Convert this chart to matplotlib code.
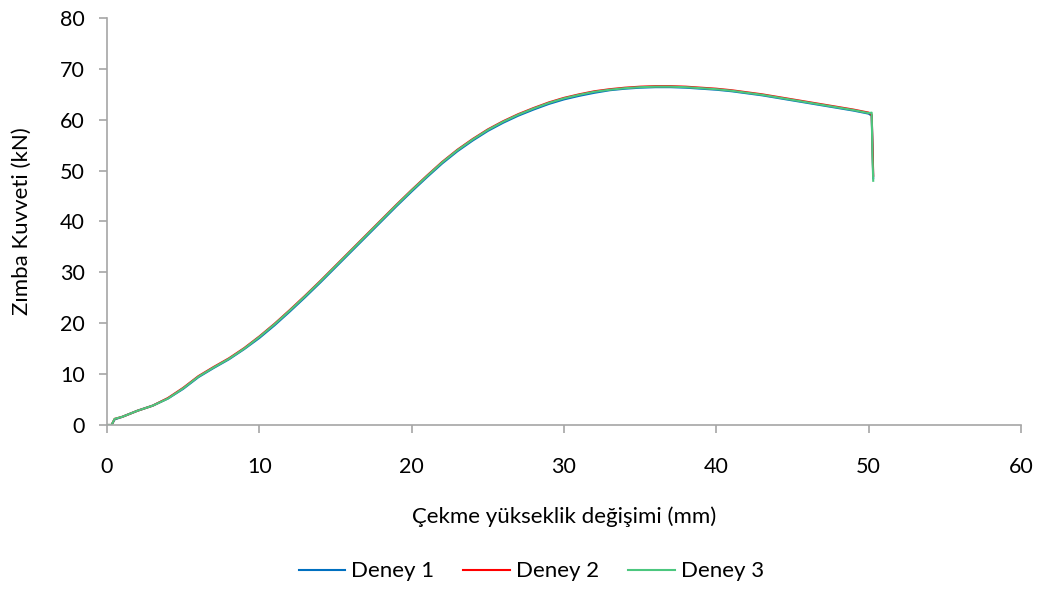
import matplotlib
matplotlib.use("Agg")
import matplotlib.pyplot as plt

plt.rcParams['font.family'] = ['Lato', 'DejaVu Sans']

# Punch displacement (mm)
disp = [0, 0.3, 0.5, 1, 2, 3, 4, 5, 6, 7, 8, 9, 10, 11, 12, 13, 14, 15, 16,
        17, 18, 19, 20, 21, 22, 23, 24, 25, 26, 27, 28, 29, 30, 31, 32, 33,
        34, 35, 36, 37, 38, 39, 40, 41, 42, 43, 44, 45, 46, 47, 48, 49, 50,
        50.2, 50.25, 50.3]

# Punch force (kN)
deney1 = [0, 0, 1.1, 1.6, 2.8, 3.8, 5.2, 7.1, 9.4, 11.2, 12.9, 14.9, 17.1,
          19.6, 22.3, 25.1, 28.0, 31.0, 34.0, 37.0, 40.0, 43.0, 45.9, 48.7,
          51.4, 53.8, 55.9, 57.8, 59.4, 60.8, 62.0, 63.1, 64.0, 64.7, 65.3,
          65.8, 66.1, 66.3, 66.4, 66.4, 66.3, 66.1, 65.9, 65.6, 65.2, 64.8,
          64.3, 63.8, 63.3, 62.8, 62.3, 61.8, 61.2, 60.8, 55.0, 48.5]
deney2 = [0, 0, 1.2, 1.6, 2.8, 3.8, 5.3, 7.3, 9.6, 11.4, 13.1, 15.1, 17.4,
          19.9, 22.6, 25.4, 28.3, 31.3, 34.3, 37.3, 40.3, 43.3, 46.2, 49.0,
          51.7, 54.1, 56.2, 58.1, 59.7, 61.1, 62.3, 63.4, 64.3, 65.0, 65.6,
          66.0, 66.3, 66.5, 66.6, 66.6, 66.5, 66.3, 66.1, 65.8, 65.4, 65.0,
          64.5, 64.0, 63.5, 63.0, 62.5, 62.0, 61.4, 61.0, 55.5, 49.0]
deney3 = [0, 0, 1.2, 1.6, 2.8, 3.8, 5.2, 7.2, 9.5, 11.3, 13.0, 15.0, 17.3,
          19.8, 22.5, 25.3, 28.2, 31.2, 34.2, 37.2, 40.2, 43.2, 46.1, 48.9,
          51.6, 54.0, 56.1, 58.0, 59.6, 61.0, 62.2, 63.3, 64.2, 64.9, 65.5,
          65.9, 66.2, 66.4, 66.5, 66.5, 66.4, 66.2, 66.0, 65.7, 65.3, 64.9,
          64.4, 63.9, 63.4, 62.9, 62.4, 61.9, 61.3, 61.4, 53.0, 48.0]

labels = ['Deney 1', 'Deney 2', 'Deney 3']
colors = ['#0070C0', '#FF0000', '#4CC77F']

fig = plt.figure(figsize=(10.4, 5.9), dpi=100)
ax = fig.add_axes([0.1029, 0.2797, 0.8788, 0.6898])

for ys, lab, col in zip([deney1, deney2, deney3], labels, colors):
    ax.plot(disp, ys, color=col, linewidth=1.5, label=lab)

ax.set_xlim(0, 60)
ax.set_ylim(0, 80)
ax.set_xticks(range(0, 61, 10))
ax.set_yticks(range(0, 81, 10))

gray = '#A6A6A6'
for side in ['top', 'right']:
    ax.spines[side].set_visible(False)
for side in ['left', 'bottom']:
    ax.spines[side].set_color(gray)
    ax.spines[side].set_linewidth(1.2)
ax.tick_params(axis='both', colors=gray, labelcolor='black', length=6,
               width=1.2, labelsize=15.5, direction='out')
ax.tick_params(axis='x', pad=17)
ax.tick_params(axis='y', pad=10)

ax.set_xlabel('Çekme yükseklik değişimi (mm)', fontsize=16, labelpad=21)
ax.set_ylabel('Zımba Kuvveti (kN)', fontsize=16, labelpad=20)

# legend sits a bit left of the axes centre, as in the original
ax.legend(loc='center', bbox_to_anchor=(0.464, -0.36), ncol=3,
          frameon=False, fontsize=16, handlelength=2.1, handletextpad=0.27,
          columnspacing=1.3)

fig.savefig('out.png', dpi=100)
